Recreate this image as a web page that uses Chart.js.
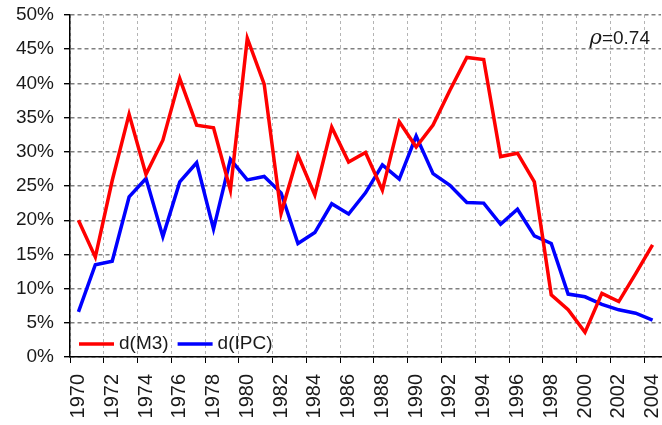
<!DOCTYPE html>
<html>
<head>
<meta charset="utf-8">
<script src="https://cdn.jsdelivr.net/npm/chart.js@4/dist/chart.umd.min.js"></script>
<style>
  html, body { margin: 0; padding: 0; background: #fff; }
  #wrap { width: 662px; height: 425px; }
</style>
</head>
<body>
<div id="wrap"><canvas id="myChart" width="662" height="425"></canvas></div>
<script>
const years = [
  "1970", "1971", "1972", "1973", "1974", "1975", "1976", "1977", "1978", "1979",
  "1980", "1981", "1982", "1983", "1984", "1985", "1986", "1987", "1988", "1989",
  "1990", "1991", "1992", "1993", "1994", "1995", "1996", "1997", "1998", "1999",
  "2000", "2001", "2002", "2003", "2004",
];

// growth rates, in %
const m3 = [
  20.0, 14.6, 25.8, 35.5, 26.7, 31.7, 40.7, 33.9, 33.5, 24.4,
  46.6, 39.9, 21.0, 29.5, 23.7, 33.6, 28.5, 29.9, 24.4, 34.4,
  30.7, 33.9, 39.0, 43.8, 43.5, 29.3, 29.8, 25.6, 9.1, 6.9,
  3.6, 9.3, 8.1, 12.2, 16.4,
];

const ipc = [
  6.6, 13.5, 14.0, 23.4, 26.1, 17.6, 25.6, 28.4, 18.7, 28.9,
  25.9, 26.4, 24.0, 16.6, 18.2, 22.4, 20.9, 24.0, 28.1, 26.0,
  32.3, 26.8, 25.1, 22.6, 22.5, 19.4, 21.6, 17.7, 16.6, 9.2,
  8.8, 7.7, 6.9, 6.4, 5.4,
];

const yTicks = [0, 5, 10, 15, 20, 25, 30, 35, 40, 45, 50];
const rhoLabel = "0.74";

Chart.defaults.font.family = "'Liberation Sans', Arial, sans-serif";
Chart.defaults.font.size = 19;
Chart.defaults.color = "#1a1a1a";

// legend drawn inside the plot, bottom left
const innerLegend = {
  id: "innerLegend",
  afterDraw(chart) {
    const ctx = chart.ctx;
    const area = chart.chartArea;
    let x = area.left + 9;
    const y = area.bottom - 13;
    ctx.save();
    ctx.font = "19px 'Liberation Sans', Arial, sans-serif";
    ctx.textBaseline = "middle";
    ctx.fillStyle = "#1a1a1a";
    chart.data.datasets.forEach((ds) => {
      ctx.strokeStyle = ds.borderColor;
      ctx.lineWidth = 3.5;
      ctx.beginPath();
      ctx.moveTo(x, y);
      ctx.lineTo(x + 35, y);
      ctx.stroke();
      x += 40;
      ctx.fillText(ds.label, x, y);
      x += ctx.measureText(ds.label).width + 9;
    });
    ctx.restore();
  },
};

// correlation note, top right
const rhoNote = {
  id: "rhoNote",
  afterDraw(chart) {
    const ctx = chart.ctx;
    ctx.save();
    ctx.fillStyle = "#1a1a1a";
    ctx.textBaseline = "alphabetic";
    ctx.font = "19px 'Liberation Sans', Arial, sans-serif";
    const rest = "=" + rhoLabel;
    const w2 = ctx.measureText(rest).width;
    const right = 650;
    ctx.fillText(rest, right - w2, 44);
    ctx.font = "italic 21px 'DejaVu Serif', serif";
    const w1 = ctx.measureText("\u03c1").width;
    ctx.fillText("\u03c1", right - w2 - w1, 44);
    ctx.restore();
  },
};

const config = {
  type: "line",
  data: {
    labels: years,
    datasets: [
      {
        label: "d(M3)",
        data: m3,
        borderColor: "#ff0000",
        borderWidth: 3.5,
        pointRadius: 0,
        tension: 0,
      },
      {
        label: "d(IPC)",
        data: ipc,
        borderColor: "#0000ff",
        borderWidth: 3.5,
        pointRadius: 0,
        tension: 0,
      },
    ],
  },
  options: {
    responsive: false,
    animation: false,
    layout: { padding: { top: 15, right: 1, left: 0, bottom: 0 } },
    plugins: {
      legend: { display: false },
      tooltip: { enabled: false },
    },
    scales: {
      x: {
        offset: true,
        grid: {
          offset: true,
          color: (c) => (c.index % 2 === 0 ? "#b4b4b4" : "rgba(0,0,0,0)"),
          tickColor: (c) => (c.index % 2 === 0 ? "#000" : "rgba(0,0,0,0)"),
          lineWidth: 1,
          tickLength: 6,
        },
        border: { color: "#000", width: 1.5, dash: [3, 3] },
        ticks: {
          autoSkip: false,
          minRotation: 90,
          maxRotation: 90,
          padding: 11,
          font: { size: 20 },
          callback: function (v, i) {
            return i % 2 === 0 ? years[i] : "";
          },
        },
        afterFit(scale) {
          scale.height = 68;
          scale.paddingLeft = 0;
          scale.paddingRight = 0;
        },
      },
      y: {
        min: 0,
        max: 50,
        afterBuildTicks(scale) {
          scale.ticks = yTicks.map((v) => ({ value: v }));
        },
        grid: {
          color: "#808080",
          lineWidth: 1.4,
          tickColor: "#000",
          tickLength: 6,
        },
        border: { color: "#000", width: 1.5, dash: [4, 3] },
        ticks: {
          padding: 10,
          callback: (v) => v + "%",
        },
        afterFit(scale) {
          scale.width = 70;
          scale.paddingTop = 0;
          scale.paddingBottom = 0;
        },
      },
    },
  },
  plugins: [innerLegend, rhoNote],
};

let myChart = new Chart(document.getElementById("myChart"), config);
</script>
</body>
</html>
